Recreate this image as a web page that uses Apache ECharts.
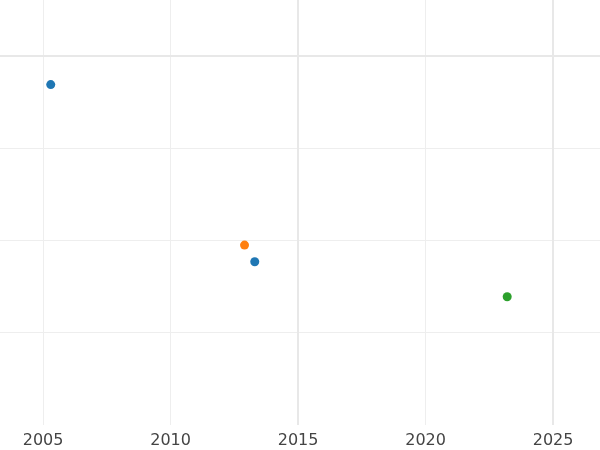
<!DOCTYPE html>
<html>
<head>
<meta charset="utf-8">
<script src="https://cdn.jsdelivr.net/npm/echarts@6/dist/echarts.min.js"></script>
<style>html,body{margin:0;padding:0;background:#fff}#c{width:600px;height:450px}</style>
</head>
<body>
<div id="c"></div>
<script>
// points: [year, value]
const blueYears = [2005.3, 2013.3];
const blueValues = [3.69, 1.77];
const orangeYears = [2012.9];
const orangeValues = [1.95];
const greenYears = [2023.2];
const greenValues = [1.39];
const strongX = [2015, 2025];
const strongY = [4];

function pairs(xs, ys) {
    return xs.map(function (x, i) { return [x, ys[i]]; });
}

const chart = echarts.init(document.getElementById('c'));
const option = {
    animation: false,
    grid: { left: 0, right: 0, top: 0, bottom: 25 },
    xAxis: {
        type: 'value',
        min: 2003.31,
        max: 2026.84,
        splitNumber: 5,
        axisLine: { show: false },
        axisTick: { show: false },
        axisLabel: {
            color: '#444',
            fontSize: 16,
            fontFamily: 'DejaVu Sans',
            showMinLabel: false,
            showMaxLabel: false,
            formatter: function (v) { return String(v); }
        },
        splitLine: { showMinLine: false, showMaxLine: false, lineStyle: { color: '#eeeeee', width: 1 } }
    },
    yAxis: {
        type: 'value',
        min: 0,
        max: 4.607,
        interval: 1,
        axisLine: { show: false },
        axisTick: { show: false },
        axisLabel: { show: false },
        splitLine: { showMinLine: false, showMaxLine: false, lineStyle: { color: '#eeeeee', width: 1 } }
    },
    series: [{
        type: 'scatter',
        symbolSize: 9,
        itemStyle: { color: '#1f77b4', opacity: 1 },
        data: pairs(blueYears, blueValues),
        markLine: {
            silent: true,
            symbol: 'none',
            label: { show: false },
            lineStyle: { color: '#e8e8e8', width: 2, type: 'solid' },
            data: strongX.map(function (v) { return { xAxis: v }; })
                .concat(strongY.map(function (v) { return { yAxis: v }; }))
        }
    }, {
        type: 'scatter',
        symbolSize: 9,
        itemStyle: { color: '#ff7f0e', opacity: 1 },
        data: pairs(orangeYears, orangeValues)
    }, {
        type: 'scatter',
        symbolSize: 9,
        itemStyle: { color: '#2ca02c', opacity: 1 },
        data: pairs(greenYears, greenValues)
    }]
};
chart.setOption(option);
</script>
</body>
</html>
